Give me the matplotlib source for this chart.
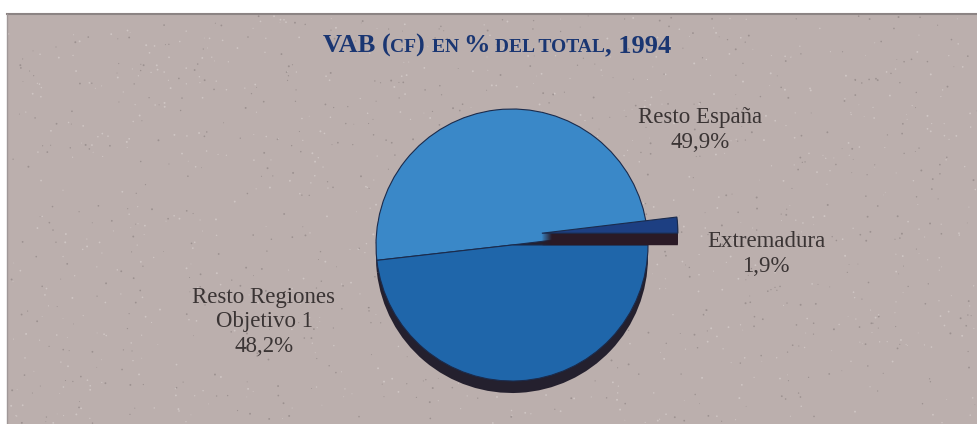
import matplotlib
matplotlib.use("Agg")
import numpy as np
import matplotlib.pyplot as plt
from matplotlib.patches import Rectangle, Wedge

# Shares of gross value added (factor cost), 1994
labels = ["Extremadura", "Resto España", "Resto Regiones\nObjetivo 1"]
values = [1.9, 49.9, 48.2]
face_colors = ["#1d3f82", "#3a88c8", "#1f66aa"]
side_colors = ["#2a1a26", "#24202e", "#24202e"]
explode_frac = [0.22, 0.0, 0.0]

W, H = 978, 424
fig = plt.figure(figsize=(W / 100, H / 100), dpi=100)
fig.patch.set_facecolor("white")
ax = fig.add_axes([0, 0, 1, 1])

def Y(y):
    # top-down pixel row -> data y
    return H - y

# panel background
ax.add_patch(Rectangle((7, 0), W - 7, Y(14), facecolor="#bbafad",
                       edgecolor="none", zorder=0))
ax.plot([7, W], [Y(14), Y(14)], color="#8c8484", lw=1.5, zorder=1)
ax.plot([7, 7], [0, Y(14)], color="#a09898", lw=1.0, zorder=1)

# paper grain
rng = np.random.default_rng(7)
n = 1400
gx = rng.uniform(8, W, n)
gy = rng.uniform(0, Y(15), n)
gc = np.where(rng.random(n) < 0.5, "#d8d0ce", "#8f8584")
ax.scatter(gx, gy, s=rng.uniform(0.3, 2.0, n), c=gc, linewidths=0,
           alpha=0.7, zorder=0.5)

cx, cy, r = 512, 245, 136
explode = [e * r for e in explode_frac]
depth = 12
lift = 10  # the pulled-out slice is raised a little

# extruded side (depth) drawn below the top faces
side, _ = ax.pie(values, colors=side_colors, startangle=0, counterclock=True,
                 explode=explode, radius=r, center=(cx, Y(cy) - depth),
                 wedgeprops=dict(linewidth=0), frame=True)
top, _ = ax.pie(values, colors=face_colors, startangle=0, counterclock=True,
                explode=explode, radius=r, center=(cx, Y(cy)),
                wedgeprops=dict(linewidth=0.8, edgecolor="#1b2b4c"), frame=True)
for w in side:
    w.set_zorder(2)
for w in top:
    w.set_zorder(3)

# solid extrusion for the pulled-out slice, stacked layer by layer
sl = top[0]
sx, sy = sl.center
sy += lift
side[0].set_visible(False)
for d in np.arange(depth, 0, -1.0):
    ax.add_patch(Wedge((sx, sy - d), sl.r, sl.theta1, sl.theta2,
                       facecolor=side_colors[0], edgecolor="none", zorder=4))
sl.set_center((sx, sy))
sl.set_zorder(5)

ax.set_xlim(0, W)
ax.set_ylim(0, H)
ax.set_aspect("equal")
ax.axis("off")

def pct(v):
    return f"{v:.1f}%".replace(".", ",")

label_pos = [(766, 254), (700, 130), (264, 322)]
for lab, v, (x, y) in zip(labels, values, label_pos):
    ax.text(x, Y(y), f"{lab}\n{pct(v)}", ha="center", va="center",
            multialignment="center", fontsize=16.5, family="Liberation Serif",
            color="#3a3434", linespacing=1.2, zorder=6)

# title set in small caps
title_parts = [("VAB ", 19), ("(", 19), ("CF", 14), (") ", 19), ("EN ", 14),
               ("%", 19), (" DEL TOTAL", 14), (", 1994", 19)]
fig.canvas.draw()
renderer = fig.canvas.get_renderer()
texts = []
total = 0.0
for s, fs in title_parts:
    t = ax.text(0, Y(52), s, fontsize=fs, family="Liberation Serif",
                fontweight="bold", color="#1a3672", ha="left", va="baseline",
                zorder=7)
    w = t.get_window_extent(renderer).width
    texts.append((t, w))
    total += w
x0 = 497 - total / 2
for t, w in texts:
    t.set_x(x0)
    x0 += w

fig.savefig("out.png", dpi=100, facecolor="white")
